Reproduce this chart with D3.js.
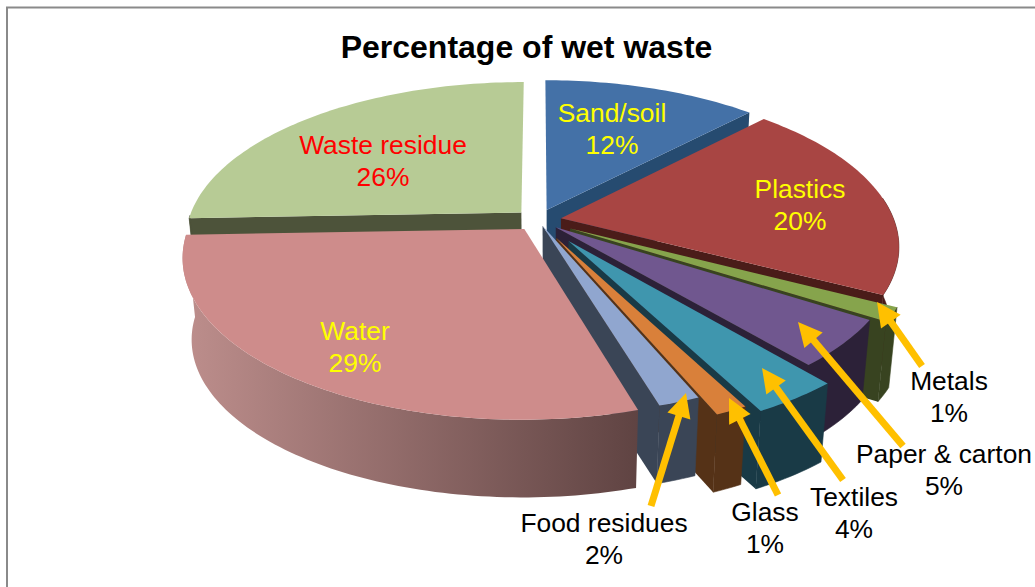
<!DOCTYPE html>
<html><head><meta charset="utf-8">
<script src="https://cdn.jsdelivr.net/npm/d3@7"></script>
<style>html,body{margin:0;padding:0;background:#fff;overflow:hidden}svg{display:block}text{font-family:"Liberation Sans",Arial,sans-serif}</style>
</head><body><svg id="c" width="1035" height="587"></svg>
<script>
const chartTitle = "Percentage of wet waste";
const categories = ["Sand/soil","Plastics","Metals","Paper & carton","Textiles","Glass","Food residues","Water","Waste residue"];
const values = [12.2,20.4,1.4,4.8,3.55,1.3,1.7,29.1,25.6];
const explode = [0.07,0.07,0.11,0.07,0.16,0.125,0.04,0.07,0.07];
const topColors = ["#4471a7","#a84543","#86a44c","#70578f","#3f96ae","#d9803a","#90a6cf","#ce8c8b","#b7cb95"];
const sideColors = ["#264b70","#4a1c19","#384320","#2c2138","#193a46","#553217","#3a4556","#6a4b4a","#4d533a"];
const labelColors = ["#ffff00","#ffff00","#000","#000","#000","#000","#000","#ffff00","#ff0000"];
// Layout: label centre x, first baseline y, and optional callout (tail and tip)
const labelLayout = [
 {x:612,y:122},{x:800,y:198},
 {x:949,y:390,tail:[922,366],tip:[877,302]},
 {x:944,y:463,tail:[903,446],tip:[798,322]},
 {x:854,y:506,tail:[843,480],tip:[762,368]},
 {x:765,y:521,tail:[778,495],tip:[729,398]},
 {x:604,y:532,tail:[651,506],tip:[686,393]},
 {x:355,y:340},{x:383,y:154}
];
const paintOrder = [8,0,1,2,3,4,5,6,7];

const svg = d3.select("#c");
const W=1035,H=587;
const G={cx:538,cy:220,rx:333,ry:155,k:0.17,t:0.0243,vx:555,vy:3617};

const defs=svg.append("defs");
const grad=defs.append("linearGradient").attr("id","waterRim").attr("gradientUnits","userSpaceOnUse")
  .attr("x1",185).attr("x2",640).attr("y1",0).attr("y2",0);
grad.append("stop").attr("offset",0).attr("stop-color","#bd8e8c");
grad.append("stop").attr("offset",1).attr("stop-color","#5f4342");

svg.append("path").attr("d",`M7,${H}V7.5H${W}`).attr("fill","none").attr("stroke","#8a8a8a").attr("stroke-width",2);

const xS=d3.scaleLinear().domain([-1,1]).range([G.cx-G.rx,G.cx+G.rx]);
const yS=d3.scaleLinear().domain([-1,1]).range([G.cy-G.ry,G.cy+G.ry]);
function project(u,v){const s=1/(1-G.k*v);return [xS(u*s),yS(v*s)];}
function lower(p){return [p[0]+G.t*(G.vx-p[0]),p[1]+G.t*(G.vy-p[1])];}
const line=d3.line();

const arcs=d3.pie().sort(null).value(d=>d).startAngle(0).endAngle(2*Math.PI)(values);
const g=svg.append("g");

paintOrder.forEach(i=>{
  const a=arcs[i],mid=(a.startAngle+a.endAngle)/2,e=explode[i];
  const du=e*Math.sin(mid),dv=-e*Math.cos(mid);
  const P=ang=>project(du+Math.sin(ang),dv-Math.cos(ang));
  const apex=project(du,dv);
  const steps=Math.max(4,Math.ceil((a.endAngle-a.startAngle)/0.02));
  const angs=d3.range(steps+1).map(j=>a.startAngle+(a.endAngle-a.startAngle)*j/steps);
  const rim=angs.map(P);
  const front=angs.filter(x=>Math.cos(x)<(x<Math.PI?0.15:0)).map(P);
  const faces=[[apex,rim[0],lower(rim[0]),lower(apex)],[apex,rim[steps],lower(rim[steps]),lower(apex)]];
  faces.forEach((f,n)=>{
    const ang=n===0?a.startAngle:a.endAngle;
    const nv=(n===0?-1:1)*Math.sin(ang);
    if(nv>0.02) g.append("path").attr("d",line(f)+"Z").attr("fill",sideColors[i]);
  });
  if(front.length>1){
    g.append("path").attr("d",line(front.concat(front.map(lower).reverse()))+"Z")
      .attr("fill",i===7?"url(#waterRim)":sideColors[i]).attr("stroke",i===7?"none":sideColors[i]).attr("stroke-width",0.6);
  }
  g.append("path").attr("d",line([apex].concat(rim))+"Z").attr("fill",topColors[i]);
});

svg.append("text").attr("x",526.5).attr("y",58).attr("text-anchor","middle")
  .attr("font-size",32).attr("font-weight","bold").attr("fill","#000").text(chartTitle);

labelLayout.forEach(l=>{
  if(!l.tail) return;
  const dx=l.tip[0]-l.tail[0],dy=l.tip[1]-l.tail[1],n=Math.hypot(dx,dy),ux=dx/n,uy=dy/n;
  const len=24,hw=12;
  const b=[l.tip[0]-ux*len,l.tip[1]-uy*len];
  const ne=[l.tip[0]-ux*(len-3),l.tip[1]-uy*(len-3)];
  svg.append("path").attr("d",line([l.tail,ne])).attr("fill","none").attr("stroke","#ffc000").attr("stroke-width",7);
  svg.append("path").attr("d",line([l.tip,[b[0]-uy*hw,b[1]+ux*hw],[b[0]+uy*hw,b[1]-ux*hw]])+"Z").attr("fill","#ffc000");
});
labelLayout.forEach((l,i)=>{
  const t=svg.append("text").attr("text-anchor","middle").attr("font-size",26.4).attr("fill",labelColors[i]);
  t.append("tspan").attr("x",l.x).attr("y",l.y).text(categories[i]);
  t.append("tspan").attr("x",l.x).attr("y",l.y+32).text(d3.format(".0%")(arcs[i].value/d3.sum(values)));
});
</script></body></html>
